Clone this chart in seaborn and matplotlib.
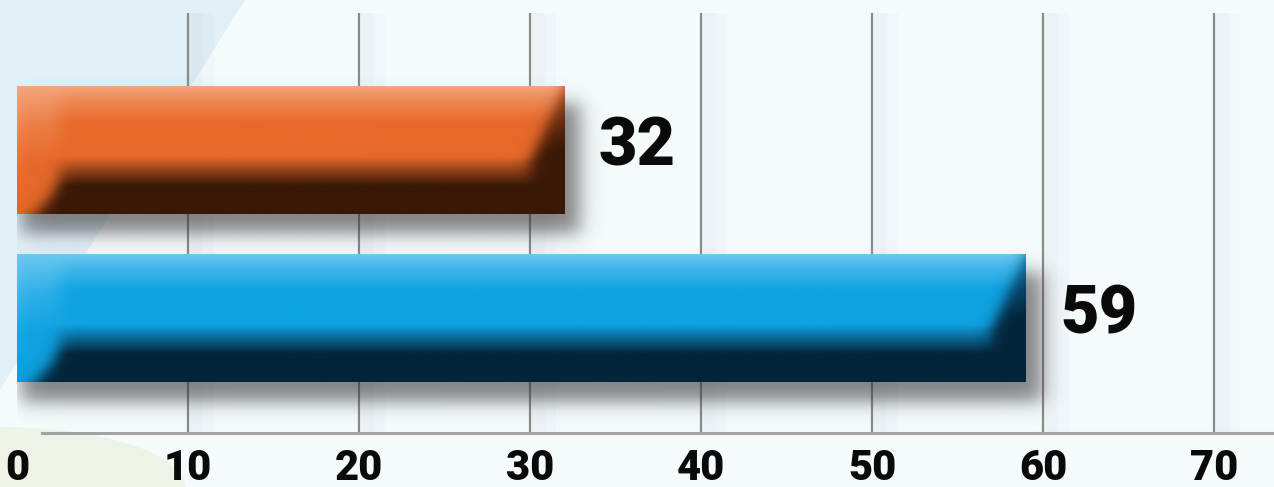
import numpy as np
import pandas as pd
import seaborn as sns
import matplotlib.pyplot as plt
import matplotlib.patheffects as pe
from matplotlib.patches import Polygon, Ellipse

# data
categories = ["Series A", "Series B"]
values = [32, 59]
bar_colors = ["#E8692A", "#0FA3E3"]
light_colors = ["#F3A67C", "#6CC8F0"]
dark_colors = ["#3A1806", "#04243A"]
tick_values = [0, 10, 20, 30, 40, 50, 60, 70]

df = pd.DataFrame({"group": categories, "value": values})

W_PX, H_PX = 1274, 487
fig = plt.figure(figsize=(W_PX / 100, H_PX / 100), dpi=100)
fig.patch.set_facecolor("#F5FAFD")

# soft background shapes
fig.patches.append(Polygon([(0, 1), (245 / W_PX, 1), (0, 1 - 390 / H_PX)], closed=True,
                           transform=fig.transFigure, facecolor="#E1EFF7", edgecolor="none", zorder=-10))
fig.patches.append(Ellipse((0, 0), 2 * 185 / W_PX, 2 * 60 / H_PX, transform=fig.transFigure,
                           facecolor="#EDF3E6", edgecolor="none", zorder=-10))

ax = fig.add_axes([17 / W_PX, 54 / H_PX, 1 - 17 / W_PX, 420 / H_PX])
ax.set_facecolor("none")

sns.barplot(data=df, x="value", y="group", hue="group", palette=bar_colors, orient="h",
            width=0.76, saturation=1, legend=False, ax=ax, zorder=3)

XMAX = (W_PX - 17) / 17.1
ax.set_xlim(0, XMAX)
ax.set_ylim(1.685, -0.815)

# grid
ax.set_xticks(tick_values)
ax.set_xticklabels([str(t) for t in tick_values])
ax.set_axisbelow(True)
ax.grid(axis="x", color="#8A8A8A", linewidth=1.6)
gl = ax.get_xgridlines()
gl[0].set_visible(False)
for line in gl:
    line.set_path_effects([pe.SimpleLineShadow(offset=(9, 0), shadow_color="#A5ADB3", alpha=0.05,
                                               linewidth=18),
                           pe.SimpleLineShadow(offset=(6, 0), shadow_color="#A5ADB3", alpha=0.05,
                                               linewidth=9), pe.Normal()])
ax.grid(axis="y", visible=False)

for s in ["top", "right", "left"]:
    ax.spines[s].set_visible(False)
ax.spines["bottom"].set_color("#A3A3A3")
ax.spines["bottom"].set_linewidth(2.2)
ax.spines["bottom"].set_bounds(1.46, XMAX)

ax.tick_params(axis="x", length=0, pad=11, labelsize=30)
ax.tick_params(axis="y", left=False, labelleft=False)
for lab in ax.get_xticklabels():
    lab.set_fontfamily("Roboto")
    lab.set_fontweight("black")
    lab.set_color("#0A0A0A")
ax.set_xlabel("")
ax.set_ylabel("")

inv = ax.transData.inverted()


def hex_rgb(c):
    c = c.lstrip("#")
    return np.array([int(c[i:i + 2], 16) / 255 for i in (0, 2, 4)])


def profile(t, stops):
    pos = [s[0] for s in stops]
    out = np.zeros((len(t), 3))
    for k in range(3):
        out[:, k] = np.interp(t, pos, [s[1][k] for s in stops])
    return out


def soft(u, a, b, s):
    return 0.5 * (np.tanh((u - a) / s) - np.tanh((u - b) / s))


def step(u, s):
    return 0.5 * (1 + np.tanh(u / s))


for i, patch in enumerate(ax.patches):
    x0, y0 = patch.get_x(), patch.get_y()
    w, h = patch.get_width(), patch.get_height()
    (L, T), (R, B) = ax.transData.transform([(x0, y0), (x0 + w, y0 + h)])
    L, R = min(L, R), max(L, R)
    T, B = max(T, B), min(T, B)
    Wp, Hp = int(R - L), int(T - B)
    lt, md, dk = hex_rgb(light_colors[i]), hex_rgb(bar_colors[i]), hex_rgb(dark_colors[i])

    # drop shadow
    pad = 60
    xs = np.arange(L - 20, R + pad)
    ys = np.arange(T + 10, B - pad, -1)
    ax_a = soft(xs, L + 4, R + 16, 12)
    ay_a = soft(-ys, -(T - 18), -(B - 20), 11)
    alpha = 0.6 * ay_a[:, None] * ax_a[None, :]
    sh = np.zeros((len(ys), len(xs), 4))
    sh[..., :3] = 0.2
    sh[..., 3] = alpha
    (dl, dt), (dr, db) = inv.transform([(xs[0], ys[0]), (xs[-1], ys[-1])])
    ax.imshow(sh, extent=(dl, dr, db, dt), origin="upper", aspect="auto", zorder=2,
              interpolation="bilinear")

    # beveled gradient face
    t = np.linspace(0, 1, Hp)
    yt = (t * Hp)[:, None]          # px from top
    yb = Hp - yt                    # px from bottom
    xl = np.arange(Wp)[None, :].astype(float)
    xr = Wp - 1 - xl

    base = profile(t, [(0, lt), (0.1, 0.55 * lt + 0.45 * md), (0.28, md), (0.55, md),
                       (0.78, dk), (1, dk)])[:, None, :]
    lit = profile(t, [(0, lt), (0.3, 0.35 * lt + 0.65 * md), (0.6, md), (1, md)])[:, None, :]
    shade = profile(t, [(0, 0.6 * md + 0.4 * dk), (0.25, 0.25 * md + 0.75 * dk), (0.5, dk),
                        (1, dk)])[:, None, :]

    # left face: mitred at ~45 deg from bottom-left corner
    ml = (1 - step(xl - (yb * 1.0 + 18), 12)) * (1 - step(xl - 42, 10))
    ml = ml[..., None]
    # right face: mitred steeply from top-right corner
    mr = (1 - step(xr - np.minimum(yt * 0.45, 34), 9))
    mr = mr[..., None]
    img = base * (1 - ml) + lit * ml
    img = img * (1 - mr) + shade * mr
    # thin highlight along the left edge
    edge = (np.exp(-xl / 6) * np.clip(1 - t[:, None] * 1.2, 0, 1))[..., None]
    img = img * (1 - 0.5 * edge) + lt[None, None, :] * 0.5 * edge
    img = np.clip(img, 0, 1)

    (il, it), (ir, ib) = inv.transform([(L, T), (R, B)])
    im = ax.imshow(img, extent=(il, ir, ib, it), origin="upper", aspect="auto", zorder=4,
                   interpolation="bilinear")
    im.set_clip_path(patch)

ax.set_xlim(0, XMAX)
ax.set_ylim(1.685, -0.815)

# value labels
for i, v in enumerate(values):
    ax.annotate(str(v), xy=(v, i), xytext=(25, 2), textcoords="offset points",
                ha="left", va="center", fontsize=48, fontfamily="Roboto", fontweight="black",
                color="#0A0A0A", zorder=6)

fig.savefig("out.png", dpi=100, facecolor=fig.get_facecolor())
